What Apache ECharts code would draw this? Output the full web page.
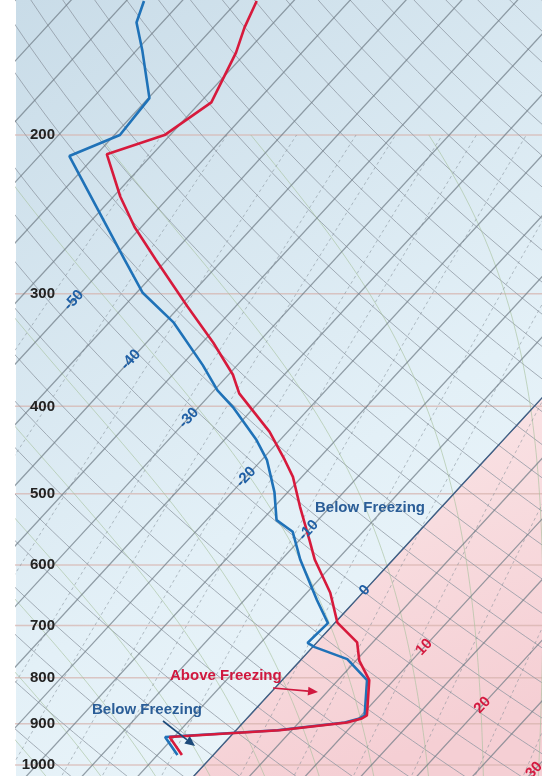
<!DOCTYPE html>
<html>
<head>
<meta charset="utf-8">
<style>
  html, body { margin: 0; padding: 0; background: #fff; }
  #chart { width: 542px; height: 776px; }
</style>
<script src="https://cdn.jsdelivr.net/npm/echarts@6/dist/echarts.min.js"></script>
</head>
<body>
<div id="chart"></div>
<script>
// 气压刻度 (hPa)
var pressureTicks = [200, 300, 400, 500, 600, 700, 800, 900, 1000];

// 温度廓线 (红线): 气压 / 温度
var tempPressure = [142, 152, 162, 184, 200, 210, 234, 253, 275, 310, 340, 369, 387, 427, 459, 479, 517, 563, 592, 644, 695, 731, 766, 805, 881, 888, 897, 915, 931, 975];
var tempValue    = [-58.3, -57.2, -55.9, -54.0, -55.5, -59.1, -54.4, -50.6, -46.0, -39.3, -34.0, -29.6, -27.5, -21.6, -17.9, -15.8, -12.7, -9.1, -7.0, -2.9, 0.2, 3.6, 5.3, 7.8, 10.5, 10.3, 9.3, 3.9, -5.4, -2.8];

// 露点廓线 (蓝线): 气压 / 露点
var dewPressure = [142, 150, 161, 182, 200, 211, 275, 299, 323, 360, 384, 401, 436, 459, 498, 535, 551, 592, 656, 696, 732, 740, 763, 805, 881, 888, 897, 915, 931, 975];
var dewValue    = [-68.4, -67.3, -64.5, -59.9, -59.5, -62.3, -48.8, -44.5, -39.2, -33.1, -29.7, -26.9, -22.1, -19.5, -16.2, -13.7, -11.3, -8.3, -3.5, -0.6, -0.8, 0.2, 4.1, 7.6, 10.3, 10.1, 9.1, 3.7, -5.8, -3.2];

// 等温线标签
var isoLabelTemp = [-50, -40, -30, -20, -10, 0, 10, 20, 30];
var isoLabelPressure = [305, 355, 412, 479, 549, 640, 740, 858, 1013];

// 背景线
var mixingRatios = [0.1, 0.2, 0.4, 0.7, 1, 1.5, 2, 3, 5, 7, 10, 14, 20, 26];
var moistStartTemps = [-25, -20, -15, -10, -5, 0, 5, 10, 15, 20, 25, 30, 35, 40];
var dryThetas = [];
for (var th0 = 240; th0 <= 470; th0 += 5) dryThetas.push(th0);

// 斜温坐标
var K = 32.285;
var X_MIN = -16.85, X_MAX = 30.28;
var L_MIN = -0.0281, L_MAX = 1.9545;

function lnp(p) { return Math.log(1000 / p); }
function pt(t, p) { return [t + K * lnp(p), lnp(p)]; }
function esat(tc) { return 6.112 * Math.exp(17.67 * tc / (tc + 243.5)); }

var levels = [];
for (var p = 1040; p >= 130; p -= 10) levels.push(p);

function pushLine(arr, pts) {
  pts.forEach(function (q) { arr.push(q); });
  arr.push([NaN, NaN]);
}

// 等温线
var isoData = [];
for (var t = -130; t <= 45; t += 5) pushLine(isoData, [pt(t, 1040), pt(t, 130)]);

// 干绝热线
var dryData = [];
dryThetas.forEach(function (th) {
  pushLine(dryData, levels.map(function (p) { return pt(th * Math.pow(p / 1000, 0.2857) - 273.15, p); }));
});

// 湿绝热线
function moistRate(tk, p) {
  var es = esat(tk - 273.15);
  var rs = 0.622 * es / (p - es);
  return (287 * tk + 2.5e6 * rs) / (p * (1005 + 2.5e6 * 2.5e6 * rs * 0.622 / (287 * tk * tk)));
}
var moistData = [];
moistStartTemps.forEach(function (t0) {
  var pts = [];
  var tk = t0 + 273.15, pp = 1000, dp = -2;
  var tk2 = tk;
  for (var q = 1000; q < 1040; q += 2) tk2 += moistRate(tk2, q) * 2;
  pts.push(pt(tk2 - 273.15, 1040));
  while (pp >= 200) {
    if (pp % 10 === 0) pts.push(pt(tk - 273.15, pp));
    var k1 = moistRate(tk, pp);
    var k2 = moistRate(tk + k1 * dp, pp + dp);
    tk += 0.5 * (k1 + k2) * dp;
    pp += dp;
  }
  pushLine(moistData, pts);
});

// 混合比线
var mixData = [];
mixingRatios.forEach(function (w) {
  pushLine(mixData, levels.filter(function (p) { return p >= 200; }).map(function (p) {
    var e = w * p / (622 + w);
    var a = Math.log(e / 6.112);
    return pt(243.5 * a / (17.67 - a), p);
  }));
});

// 等压线
var isobarData = [];
pressureTicks.forEach(function (p) { pushLine(isobarData, [[X_MIN - 1, lnp(p)], [X_MAX + 1, lnp(p)]]); });

// 0度线
var freezeData = levels.filter(function (p) { return p >= 385; }).map(function (p) { return pt(0, p); });

var tempData = tempPressure.map(function (p, i) { return pt(tempValue[i], p); });
var dewData = dewPressure.map(function (p, i) { return pt(dewValue[i], p); });

var chart = echarts.init(document.getElementById('chart'));

function bgLine(name, data, color, width, type) {
  return {
    name: name, type: 'line', data: data, showSymbol: false, silent: true,
    connectNulls: false, animation: false,
    lineStyle: { color: color, width: width, type: type || 'solid' }
  };
}

function arrow(x1, y1, x2, y2, color) {
  var ang = Math.atan2(y2 - y1, x2 - x1), len = 10, half = 4.5;
  var bx = x2 - len * Math.cos(ang), by = y2 - len * Math.sin(ang);
  return [
    { type: 'line', shape: { x1: x1, y1: y1, x2: bx, y2: by }, style: { stroke: color, lineWidth: 1.6 }, z: 20 },
    { type: 'polygon', shape: { points: [[x2, y2],
        [bx + half * Math.sin(ang), by - half * Math.cos(ang)],
        [bx - half * Math.sin(ang), by + half * Math.cos(ang)]] }, style: { fill: color }, z: 20 }
  ];
}

var annoFont = 'bold 15px "Liberation Sans", Arial, sans-serif';

var option = {
  animation: false,
  grid: { left: 16, right: 0, top: 0, bottom: 0 },
  xAxis: {
    type: 'value', min: X_MIN, max: X_MAX,
    axisLine: { show: false }, axisTick: { show: false }, axisLabel: { show: false }, splitLine: { show: false }
  },
  yAxis: {
    type: 'value', min: L_MIN, max: L_MAX, z: 10,
    axisLine: { show: false }, axisTick: { show: false }, splitLine: { show: false },
    axisLabel: {
      customValues: pressureTicks.map(lnp),
      formatter: function (v) { return Math.round(1000 / Math.exp(v)); },
      inside: true, align: 'right', margin: 39,
      fontSize: 15, fontWeight: 'bold', color: '#222', fontFamily: 'Liberation Sans'
    }
  },
  graphic: [
    {
      type: 'rect', z: -10, silent: true,
      shape: { x: 16, y: 0, width: 526, height: 776 },
      style: {
        fill: new echarts.graphic.LinearGradient(0, 0, 1, 1, [
          { offset: 0, color: '#c9dce8' },
          { offset: 0.6, color: '#e3f0f7' },
          { offset: 1, color: '#eef7fb' }
        ])
      }
    },
    { type: 'text', left: 315, top: 500, z: 20, style: { text: 'Below Freezing', font: annoFont, fill: '#2a5d97' } },
    { type: 'text', left: 170, top: 668, z: 20, style: { text: 'Above Freezing', font: annoFont, fill: '#d0183f' } },
    { type: 'text', left: 92, top: 702, z: 20, style: { text: 'Below Freezing', font: annoFont, fill: '#2a5d97' } }
  ].concat(arrow(163, 721, 195, 746, '#1c4a7a')).concat(arrow(273, 688, 318, 692, '#d0183f')),
  series: [
    {
      name: 'above', type: 'line', data: freezeData, showSymbol: false, silent: true,
      lineStyle: { width: 0 },
      areaStyle: {
        origin: 'start',
        color: new echarts.graphic.LinearGradient(0, 0, 0.4, 1, [
          { offset: 0, color: '#fbe9ea' },
          { offset: 1, color: '#f5cfd4' }
        ]),
        opacity: 1
      }
    },
    bgLine('isobar', isobarData, 'rgba(214,178,172,0.7)', 1.5),
    bgLine('dry', dryData, 'rgba(140,150,160,0.75)', 1),
    bgLine('moist', moistData, 'rgba(165,192,155,0.6)', 1),
    bgLine('mix', mixData, 'rgba(130,140,150,0.55)', 1, [3, 3]),
    bgLine('iso', isoData, 'rgba(110,122,132,0.7)', 1.3),
    bgLine('freeze', freezeData, '#3f5f86', 1.3),
    {
      name: '露点', type: 'line', data: dewData, showSymbol: false,
      lineStyle: { color: '#1f72b8', width: 2.6 }
    },
    {
      name: '温度', type: 'line', data: tempData, showSymbol: false,
      lineStyle: { color: '#d71a3c', width: 2.6 }
    }
  ]
};

chart.setOption(option);

// 等温线标签: 用坐标轴换算位置
var labelFont = 'bold 15px "Liberation Sans", Arial, sans-serif';
var labelGraphics = isoLabelTemp.map(function (t, i) {
  var px = chart.convertToPixel({ gridIndex: 0 }, pt(t, isoLabelPressure[i]));
  return {
    type: 'text', x: px[0], y: px[1], rotation: 47 * Math.PI / 180, z: 25, silent: true,
    style: {
      text: String(t), font: labelFont, align: 'center', verticalAlign: 'middle',
      fill: t > 0 ? '#d41a40' : '#1f5fa5'
    }
  };
});
chart.setOption({ graphic: option.graphic.concat(labelGraphics) });
</script>
</body>
</html>
